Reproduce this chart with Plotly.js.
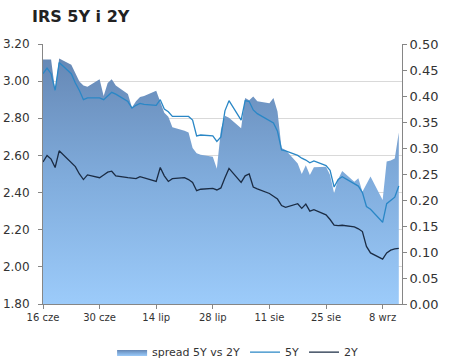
<!DOCTYPE html>
<html>
<head>
<meta charset="utf-8">
<script src="https://cdn.plot.ly/plotly-3.0.1.min.js"></script>
<style>
html,body{margin:0;padding:0;background:#fff}
#chart{width:450px;height:363px}
</style>
</head>
<body>
<div id="chart"></div>
<script>
const dates = [
 '2014-06-16','2014-06-17','2014-06-18','2014-06-19','2014-06-20',
 '2014-06-23','2014-06-24','2014-06-25','2014-06-26','2014-06-27',
 '2014-06-30','2014-07-01','2014-07-02','2014-07-03','2014-07-04',
 '2014-07-07','2014-07-08','2014-07-09','2014-07-10','2014-07-11',
 '2014-07-14','2014-07-15','2014-07-16','2014-07-17','2014-07-18',
 '2014-07-21','2014-07-22','2014-07-23','2014-07-24','2014-07-25',
 '2014-07-28','2014-07-29','2014-07-30','2014-07-31','2014-08-01',
 '2014-08-04','2014-08-05','2014-08-06','2014-08-07','2014-08-08',
 '2014-08-11','2014-08-12','2014-08-13','2014-08-14','2014-08-15',
 '2014-08-18','2014-08-19','2014-08-20','2014-08-21','2014-08-22',
 '2014-08-25','2014-08-26','2014-08-27','2014-08-28','2014-08-29',
 '2014-09-01','2014-09-02','2014-09-03','2014-09-04','2014-09-05',
 '2014-09-08','2014-09-09','2014-09-10','2014-09-11','2014-09-12'
];
const rate5Y = [
 3.04, 3.07, 3.04, 2.95, 3.10,
 3.04, 2.99, 2.95, 2.90, 2.91,
 2.91, 2.90, 2.92, 2.94, 2.93,
 2.89, 2.855, 2.87, 2.88, 2.875,
 2.87, 2.90, 2.85, 2.835, 2.81,
 2.81, 2.81, 2.79, 2.705, 2.71,
 2.705, 2.675, 2.70, 2.84, 2.895,
 2.79, 2.895, 2.89, 2.845, 2.825,
 2.785, 2.775, 2.73, 2.63, 2.625,
 2.60, 2.585, 2.575, 2.56, 2.57,
 2.545, 2.52, 2.43, 2.47, 2.485,
 2.45, 2.435, 2.40, 2.325, 2.31,
 2.24, 2.34, 2.36, 2.375, 2.435
];
const rate2Y = [
 2.565, 2.60, 2.58, 2.535, 2.625,
 2.565, 2.54, 2.50, 2.47, 2.495,
 2.48, 2.495, 2.51, 2.515, 2.49,
 2.48, 2.478, 2.475, 2.486, 2.48,
 2.46, 2.535, 2.49, 2.46, 2.475,
 2.48, 2.47, 2.455, 2.41, 2.418,
 2.423, 2.414, 2.425, 2.48, 2.53,
 2.455, 2.49, 2.50, 2.43, 2.42,
 2.395, 2.38, 2.365, 2.33, 2.32,
 2.34, 2.315, 2.338, 2.30, 2.308,
 2.28, 2.255, 2.225, 2.222, 2.224,
 2.215, 2.205, 2.19, 2.11, 2.075,
 2.042, 2.075, 2.09, 2.097, 2.10
];
const spread = [
 0.47, 0.47, 0.47, 0.41, 0.472,
 0.46, 0.445, 0.428, 0.42, 0.418,
 0.432, 0.40, 0.425, 0.432, 0.42,
 0.404, 0.378, 0.39, 0.398, 0.40,
 0.41, 0.39, 0.368, 0.36, 0.34,
 0.333, 0.33, 0.30, 0.29, 0.287,
 0.283, 0.26, 0.335, 0.362, 0.358,
 0.338, 0.396, 0.392, 0.399, 0.39,
 0.386, 0.396, 0.37, 0.30, 0.296,
 0.27, 0.25, 0.267, 0.248, 0.263,
 0.264, 0.248, 0.213, 0.24, 0.256,
 0.235, 0.242, 0.216, 0.23, 0.245,
 0.20, 0.274, 0.276, 0.28, 0.33
];
const tickDates = ['2014-06-16','2014-06-30','2014-07-14','2014-07-28','2014-08-11','2014-08-25','2014-09-08'];
const tickLabels = ['16 cze','30 cze','14 lip','28 lip','11 sie','25 sie','8 wrz'];
const seriesNames = ['spread 5Y vs 2Y', '5Y', '2Y'];

const traces = [
  {
    x: dates, y: spread, name: seriesNames[0], type: 'scatter', mode: 'lines',
    fill: 'tozeroy', line: {width: 0, color: '#7fa9d8'},
    fillgradient: {type: 'vertical', start: 0, stop: 0.48,
      colorscale: [[0, '#9ccbfa'], [0.5, '#80acdc'], [1, '#6587b4']]},
    yaxis: 'y', hoverinfo: 'skip'
  },
  {
    x: dates, y: rate5Y, name: seriesNames[1], type: 'scatter', mode: 'lines',
    line: {color: '#2a87c6', width: 1.3}, yaxis: 'y2'
  },
  {
    x: dates, y: rate2Y, name: seriesNames[2], type: 'scatter', mode: 'lines',
    line: {color: '#1b2c44', width: 1.3}, yaxis: 'y2'
  }
];

const axisCol = '#868686';
const layout = {
  width: 450, height: 363,
  margin: {l: 43, r: 48, t: 44, b: 59, autoexpand: false},
  paper_bgcolor: '#ffffff', plot_bgcolor: 'rgba(0,0,0,0)',
  font: {family: 'DejaVu Sans, Verdana, sans-serif', color: '#333333'},
  title: {
    text: 'IRS 5Y i 2Y',
    font: {size: 16, family: 'DejaVu Sans', weight: 'bold', color: '#222222'},
    xref: 'container', x: 0.071, xanchor: 'left',
    yref: 'container', y: 0.955, yanchor: 'middle'
  },
  xaxis: {
    type: 'date', range: ['2014-06-16', '2014-09-12 19:00'],
    tickmode: 'array', tickvals: tickDates, ticktext: tickLabels,
    tickfont: {size: 10}, ticks: 'outside', ticklen: 4, tickcolor: axisCol,
    showline: true, linecolor: axisCol, linewidth: 1,
    showgrid: false, zeroline: false
  },
  yaxis: {
    side: 'right', range: [0, 0.5], tick0: 0, dtick: 0.05, tickformat: '.2f',
    tickfont: {size: 13}, ticks: 'outside', ticklen: 4, tickcolor: axisCol,
    showline: true, linecolor: axisCol, linewidth: 1,
    showgrid: false, zeroline: false
  },
  yaxis2: {
    overlaying: 'y', side: 'left', range: [1.8, 3.2], tick0: 1.8, dtick: 0.2, tickformat: '.2f',
    tickfont: {size: 12}, ticks: 'outside', ticklen: 4, tickcolor: axisCol, ticklabelstandoff: 6,
    showline: true, linecolor: axisCol, linewidth: 1,
    showgrid: true, gridcolor: '#d9d9d9', gridwidth: 1, zeroline: false
  },
  showlegend: true,
  legend: {
    orientation: 'h', xref: 'container', x: 0.528, xanchor: 'center',
    yref: 'container', y: 0.03, yanchor: 'middle',
    font: {size: 11}, itemwidth: 30, traceorder: 'normal', bgcolor: 'rgba(0,0,0,0)'
  }
};

Plotly.newPlot('chart', traces, layout, {staticPlot: true, displayModeBar: false});
</script>
</body>
</html>
